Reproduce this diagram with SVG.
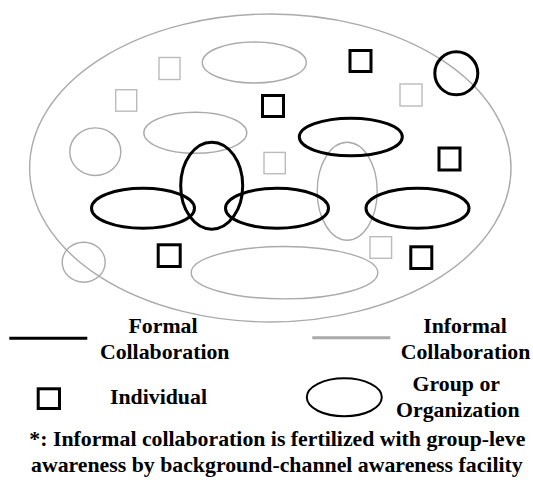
<svg xmlns="http://www.w3.org/2000/svg" width="533" height="485" viewBox="0 0 533 485">
  <style>
    .inf { fill: none; stroke: #aaaaaa; stroke-width: 1.4; }
    .infsq { fill: none; stroke: #bbbbbb; stroke-width: 1.4; }
    .frm { fill: none; stroke: #000000; stroke-width: 3; }
    .lbl { font-family: "Liberation Serif", "Times New Roman", serif; font-weight: bold; font-size: 21.8px; fill: #000000; }
    .mid { text-anchor: middle; }
  </style>

  <!-- community boundary -->
  <g id="community">
    <ellipse class="inf" cx="270.3" cy="168" rx="240.7" ry="154"/>
  </g>

  <!-- informal (grey) groups and individuals -->
  <g id="informal-groups">
    <ellipse id="ig-top" class="inf" cx="254.3" cy="62.5" rx="52" ry="20.5"/>
    <ellipse id="ig-left" class="inf" cx="195.3" cy="132.8" rx="51.5" ry="20.5"/>
    <ellipse id="ig-circle-left" class="inf" cx="95.3" cy="151.7" rx="25.5" ry="23.8"/>
    <ellipse id="ig-tall" class="inf" cx="347.2" cy="191.2" rx="30" ry="49"/>
    <ellipse id="ig-circle-low" class="inf" cx="83.7" cy="262.2" rx="21.5" ry="20"/>
    <ellipse id="ig-bottom" class="inf" cx="284.5" cy="272.7" rx="93.3" ry="26.2"/>
  </g>
  <g id="informal-individuals">
    <rect id="ii-1" class="infsq" x="159" y="57.5" width="21" height="22"/>
    <rect id="ii-2" class="infsq" x="115.7" y="89.7" width="21" height="21.5"/>
    <rect id="ii-3" class="infsq" x="400" y="84" width="22" height="22"/>
    <rect id="ii-4" class="infsq" x="264" y="152.4" width="21.3" height="21.3"/>
    <rect id="ii-5" class="infsq" x="370" y="236.7" width="21.6" height="21.6"/>
  </g>

  <!-- formal (black) groups and individuals -->
  <g id="formal-groups">
    <ellipse id="fg-top" class="frm" cx="350.8" cy="137" rx="51.5" ry="18.8"/>
    <ellipse id="fg-tall" class="frm" cx="211.7" cy="185.7" rx="31" ry="43.5"/>
    <ellipse id="fg-left" class="frm" cx="143" cy="208.3" rx="51.5" ry="20"/>
    <ellipse id="fg-mid" class="frm" cx="277" cy="208.3" rx="51.5" ry="20"/>
    <ellipse id="fg-right" class="frm" cx="417.5" cy="208.3" rx="51.5" ry="20"/>
    <circle id="fg-circle" class="frm" cx="456.3" cy="73.3" r="21.5"/>
  </g>
  <g id="formal-individuals">
    <rect id="fi-1" class="frm" x="350" y="50.5" width="21" height="21"/>
    <rect id="fi-2" class="frm" x="262.5" y="95.5" width="21" height="21"/>
    <rect id="fi-3" class="frm" x="439" y="148" width="21" height="22"/>
    <rect id="fi-4" class="frm" x="158.2" y="244.8" width="22" height="21.7"/>
    <rect id="fi-5" class="frm" x="410.8" y="246.8" width="21" height="21.7"/>
  </g>

  <!-- legend -->
  <g id="legend-formal">
    <line x1="9.3" y1="338.3" x2="87.3" y2="338.3" stroke="#000" stroke-width="3"/>
    <text class="lbl mid" x="163" y="332.7">Formal</text>
    <text class="lbl mid" x="164.7" y="359.3">Collaboration</text>
  </g>
  <g id="legend-informal">
    <line x1="312.3" y1="337.8" x2="390.3" y2="337.8" stroke="#aaaaaa" stroke-width="3"/>
    <text class="lbl mid" x="465" y="332.7">Informal</text>
    <text class="lbl mid" x="465.5" y="359.3">Collaboration</text>
  </g>
  <g id="legend-individual">
    <rect class="frm" x="38.2" y="388.8" width="21.3" height="19.7"/>
    <text class="lbl" x="110" y="404.3">Individual</text>
  </g>
  <g id="legend-group">
    <ellipse cx="344.3" cy="397.3" rx="37.5" ry="19" fill="none" stroke="#000" stroke-width="2"/>
    <text class="lbl mid" x="456.3" y="390.7">Group or</text>
    <text class="lbl mid" x="457.8" y="416.7">Organization</text>
  </g>

  <!-- footnote -->
  <g id="footnote">
    <text class="lbl" x="29.3" y="446">*: Informal collaboration is fertilized with group-leve</text>
    <text class="lbl" x="31" y="472">awareness by background-channel awareness facility</text>
  </g>
</svg>
